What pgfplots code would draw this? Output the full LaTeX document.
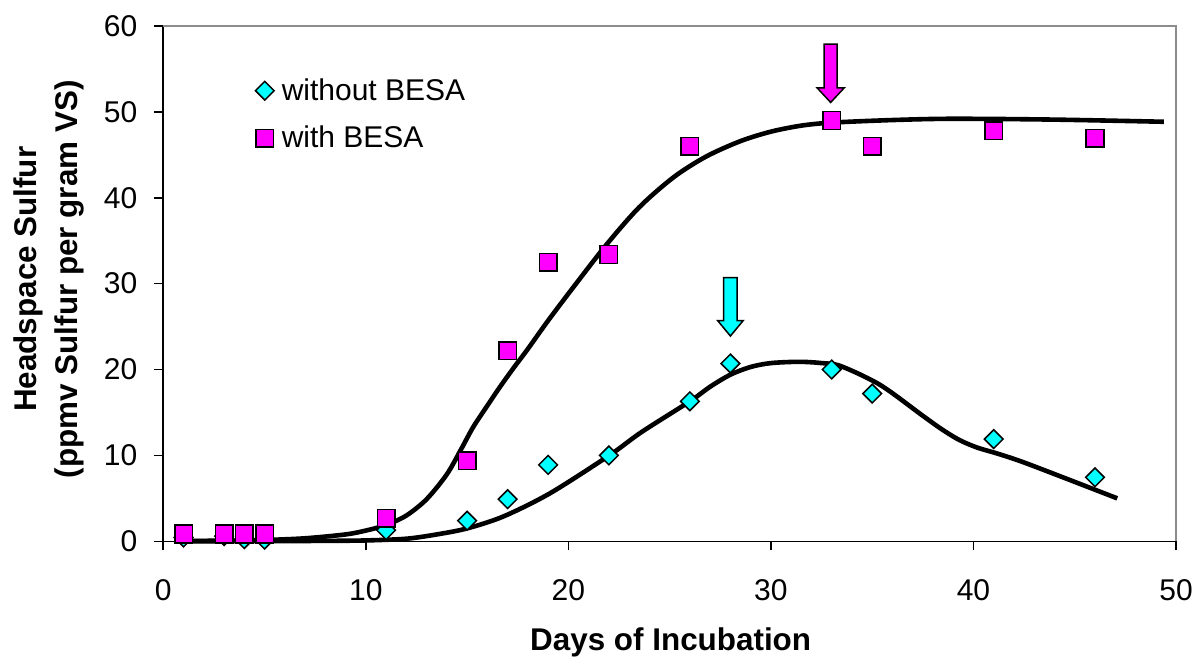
\documentclass[border=0pt]{standalone}
\usepackage{fontspec}
\setmainfont{Liberation Sans}
\usepackage{pgfplots}
\usepackage{pgfplotstable}
\pgfplotsset{compat=1.18}
\definecolor{cyanB}{HTML}{00FFFF}
\definecolor{magB}{HTML}{FF00FF}
\definecolor{frameG}{HTML}{8C8C8C}

\pgfplotstableread{
x y
1 0.45
3 0.6
4 0.25
5 0.2
11 1.3
15 2.4
17 4.9
19 8.9
22 10.0
26 16.3
28 20.7
33 20.0
35 17.2
41 11.9
46 7.45
}\withoutB

\pgfplotstableread{
x y
1 0.85
3 0.85
4 0.85
5 0.85
11 2.7
15 9.4
17 22.2
19 32.5
22 33.4
26 46.0
33 49.0
35 46.0
41 47.8
46 46.95
}\withB

\begin{document}
\begin{tikzpicture}
\path[use as bounding box] (-81.65bp,-58.35bp) rectangle (515.35bp,270.65bp);
\begin{axis}[
  at={(0,0)}, anchor=south west,
  scale only axis, width=506.35bp, height=257.65bp,
  xmin=0, xmax=50, ymin=0, ymax=60,
  xtick={0,10,...,50}, ytick={0,10,...,60},
  axis x line*=bottom, axis y line*=left,
  axis line style={-, black, line width=0.8bp},
  tick align=outside, major tick length=4.5bp,
  tick style={black, line width=0.8bp},
  /pgf/number format/assume math mode=true,
  tick label style={font=\fontsize{15bp}{18bp}\selectfont},
  xticklabel style={yshift=-11bp},
  yticklabel style={xshift=-5bp},
  xlabel={Days of Incubation},
  xlabel style={at={(axis description cs:0.501,0)}, anchor=base, yshift=-54.35bp, font=\bfseries\fontsize{15.7bp}{18bp}\selectfont},
  ylabel={Headspace Sulfur\\(ppmv Sulfur per gram VS)},
  ylabel style={at={(axis description cs:-0.1134,0.5086)}, anchor=center, align=center, font=\bfseries\fontsize{15.7bp}{20.5bp}\selectfont},
  clip=false,
  legend style={at={(axis description cs:0.0906,0.907)}, anchor=north west, draw=none, fill=none, inner sep=0pt, row sep=7.5bp, font=\fontsize{15bp}{18bp}\selectfont, nodes={inner sep=2bp}},
  legend cell align=left,
  legend image code/.code={\path[draw=none,fill=none] (0bp,0bp) -- (6.5bp,0bp); \draw[mark repeat=2,mark phase=2,#1] plot coordinates {(-1bp,0bp)(0bp,0bp)(1bp,0bp)};},
]
\addplot[only marks, mark=square*, mark size=3.3bp, mark options={rotate=45, fill=cyanB, draw=black, line width=0.75bp}] table[x=x,y=y] {\withoutB};
\addlegendentry{without BESA}
\addplot[only marks, mark=square*, mark size=4.4bp, mark options={fill=magB, draw=black, line width=0.75bp}] table[x=x,y=y] {\withB};
\addlegendentry{with BESA}

% fitted curves
\addplot[black, line width=2.3bp, smooth, tension=0.5, forget plot] coordinates {
(1,0.05)(3,0.07)(5,0.15)(7,0.35)(9,0.8)(10,1.25)(11,1.9)(12,3.0)(13,4.9)(14,7.8)(14.7,10.7)(15.3,13.3)(16,15.8)(16.6,17.9)(17.3,20.2)(18,22.4)(19,25.7)(20.25,29.6)(21.9,34.6)(23.5,38.9)(25.2,42.4)(26.8,44.8)(28.5,46.6)(30,47.7)(31.5,48.4)(33,48.75)(36,49.05)(39,49.2)(44,49.1)(49.4,48.85)
};
\addplot[black, line width=2.3bp, smooth, tension=0.5, forget plot] coordinates {
(1,0)(5,0.02)(8,0.05)(10,0.1)(12,0.3)(13.5,0.8)(15,1.5)(16.8,2.9)(19.1,5.6)(22.05,10.05)(23.6,12.7)(26,16.3)(27,18.0)(28,19.4)(29,20.3)(30,20.75)(31.4,20.9)(32.5,20.75)(33.45,20.4)(35.4,18.2)(37.45,14.7)(38.4,13.1)(39.3,11.8)(40.2,10.9)(41.2,10.2)(42.7,9.0)(47.1,5.0)
};

% arrows
\addplot[fill=magB, draw=black, line width=0.75bp, forget plot] coordinates {
(32.63,57.9)(33.27,57.9)(33.27,52.8)(33.62,52.8)(32.95,51.1)(32.28,52.8)(32.63,52.8)} -- cycle;
\addplot[fill=cyanB, draw=black, line width=0.75bp, forget plot] coordinates {
(27.67,30.7)(28.33,30.7)(28.33,25.7)(28.63,25.7)(28.0,23.9)(27.37,25.7)(27.67,25.7)} -- cycle;

\draw[frameG, line width=1bp] (rel axis cs:0,1) -- (rel axis cs:1,1) -- (rel axis cs:1,0);
\end{axis}
\end{tikzpicture}
\end{document}
